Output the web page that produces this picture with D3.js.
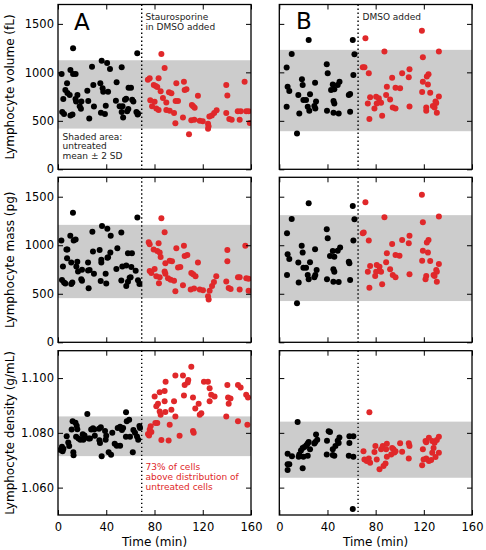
<!DOCTYPE html>
<html><head><meta charset="utf-8">
<script src="https://cdn.jsdelivr.net/npm/d3@7"></script>
<style>body{margin:0;background:#fff}svg{display:block}</style>
</head><body>
<svg id="chart" width="486" height="550"></svg>
<script>
// ---------- data (time in min, value) ----------
const xTicks = [0, 40, 80, 120, 160];
const yTicksVM = [0, 500, 1000, 1500];
const yTicksD = [1.060, 1.080, 1.100];
const additionTime = {A: 69.4, B: 65.4};
const shadeVolume = {A: [420, 1125], B: [393, 1232]};
const shadeMass = {A: [455, 1210], B: [425, 1310]};
const shadeDensity = {A: [1.0715, 1.0860], B: [1.0636, 1.0841]};

const volA_black = [[3,983],[4.4,725],[3.5,590],[5,570],[7.5,888],[7.8,787],[6.1,818],[9.7,766],[10.3,1025],[10.3,555],[12,565],[12.5,1249],[12.5,983],[14.6,983],[14.5,725],[15,700],[16.1,766],[18,650],[19,625],[19.4,700],[24.3,811],[25.1,704],[25.9,525],[28.2,1059],[29.3,869],[29.8,649],[35.1,887],[35.6,583],[36.2,1121],[37,835],[37.5,800],[38.9,570],[39.6,655],[40.7,1097],[41.5,800],[43.1,1035],[48,707],[48.6,897],[51.1,650],[52.8,1052],[52.8,590],[54,535],[53.5,650],[55.5,718],[56.5,728],[57.3,600],[58.5,842],[60.5,842],[58.3,621],[61.5,718],[62.5,700],[65,590],[66,566],[65.7,1197],[66.3,575]];
const volA_red = [[85.7,1190],[88.4,1045],[74.5,925],[76,940],[79.4,870],[81,860],[83.4,940],[82.3,848],[85.1,804],[87,735],[98.1,887],[104.4,904],[105,818],[106.5,825],[92,795],[94,785],[99.5,704],[97.5,705],[76.5,711],[80.1,697],[78,650],[81.5,628],[83.4,611],[89.8,690],[89.8,611],[92.6,604],[96.2,582],[111,663],[112,650],[113.3,635],[116,759],[103.6,535],[97.3,474],[110.5,507],[113,512],[108.6,362],[117.5,502],[120,495],[125.5,545],[127.5,555],[129.5,580],[131.5,610],[124.4,470],[124.8,445],[124.4,418],[139.5,869],[140.4,760],[139.5,580],[142,520],[144,510],[149,600],[151.5,600],[150.6,510],[154.7,904],[156,600],[158,600],[159,478]];
const massA_black = [[2.8,1048],[10.2,1099],[13,1048],[14.6,1060],[12.4,1336],[28.5,1140],[36.5,1199],[40.9,1171],[43.7,1099],[52.5,1130],[65.8,1285],[7,957],[7.8,957],[7.5,866],[11,821],[4.1,780],[16,831],[24.9,821],[29,935],[34.5,951],[35.9,850],[35.9,821],[41,870],[41.5,875],[43.4,925],[49.2,969],[58,917],[61.3,917],[15.2,780],[16.6,730],[19.9,747],[24.9,740],[26.2,745],[29.8,705],[48.4,755],[53.3,780],[56.6,790],[60.8,775],[64.4,738],[3.3,642],[5,615],[6.1,605],[11,600],[11.9,615],[19.3,650],[19.9,635],[25.4,556],[35.4,632],[39.5,705],[40,606],[52.5,637],[56.6,580],[58,623],[59.4,664],[60.2,670],[66.3,640],[67.5,600]];
const massA_red = [[85.7,1278],[88.4,1134],[76,1010],[75.2,1030],[83.4,1020],[79.3,955],[82.3,940],[84.3,925],[85.1,880],[89,815],[92.6,840],[94.5,835],[98.1,969],[104.4,995],[105,890],[107.2,900],[99.5,770],[101.4,775],[116,821],[76,735],[77.4,715],[80.1,755],[81.5,680],[84.3,670],[88.4,730],[89,705],[91.2,660],[93.4,645],[96.2,635],[83.7,608],[110.5,715],[112,700],[114,680],[103.6,587],[97.3,525],[110,545],[112.8,555],[117.5,545],[120.2,535],[125.7,530],[127.7,580],[129.3,620],[131.2,680],[124.4,475],[124.9,440],[140.4,951],[140.4,835],[139.5,627],[141.5,560],[143.1,550],[149.2,670],[150.6,670],[150.6,545],[155.3,995],[156.1,660],[158,655],[158,530]];
const densA_black = [[3.3,1.0749],[3.8,1.0733],[4.5,1.0742],[2,1.0738],[7.2,1.0788],[8.5,1.0765],[9.3,1.0752],[11.3,1.0812],[12.1,1.0842],[12.7,1.0729],[12.9,1.0718],[14.5,1.0837],[15.5,1.0826],[16,1.0813],[15,1.0786],[17,1.0779],[18.5,1.0775],[21,1.0775],[20.5,1.0795],[24.3,1.0869],[25.4,1.0779],[26.5,1.0779],[27.5,1.0812],[29,1.0817],[30,1.0812],[30.5,1.0789],[34,1.0815],[35.5,1.0820],[34.3,1.0773],[34.8,1.0763],[36.2,1.0715],[39,1.0807],[40,1.0789],[39.5,1.0775],[42,1.0729],[44,1.0720],[49.5,1.0818],[51.5,1.0822],[48.7,1.0753],[51.5,1.0753],[53,1.0810],[54,1.0818],[56.4,1.0875],[57,1.0842],[59,1.0848],[56.3,1.0786],[59.7,1.0786],[62.5,1.0810],[63.8,1.0800],[62,1.0729],[65.5,1.0787],[66.5,1.0775],[67.5,1.0825],[68,1.0818],[22,1.0790],[45,1.0800],[47,1.0760]];
const densA_red = [[110.5,1.1041],[97.3,1.1009],[103.6,1.1009],[89.2,1.0987],[108,1.0993],[107.5,1.0984],[105,1.0975],[121,1.0987],[124.3,1.0987],[125.7,1.0963],[127,1.0939],[129.8,1.0933],[140.4,1.0975],[141,1.0929],[143,1.0925],[141.5,1.0906],[149.2,1.0975],[151.4,1.0966],[156,1.0939],[157.5,1.0929],[80.1,1.0933],[84.3,1.0948],[88.4,1.0953],[88.4,1.0915],[82.9,1.0906],[81.5,1.0897],[84.3,1.0878],[85.1,1.0866],[89,1.0876],[94,1.0884],[96.2,1.0915],[97.3,1.0860],[104.4,1.0936],[111.9,1.0929],[113.8,1.0889],[116.6,1.0906],[117.5,1.0866],[118.8,1.0872],[125.7,1.0915],[139.5,1.0860],[149.2,1.0842],[157,1.0830],[92.6,1.0830],[82.3,1.0836],[80.7,1.0836],[76.8,1.0824],[76,1.0812],[74.6,1.0796],[77.4,1.0803],[75.5,1.0790],[85.7,1.0774],[91.7,1.0772],[100.8,1.0789],[111.9,1.0807],[112.5,1.0800]];

const volB_black = [[24.4,1335],[61,1335],[10.3,1190],[62.4,1187],[6.1,1049],[39.4,1083],[40.2,990],[61.5,973],[18.8,928],[19.4,869],[6.9,852],[8.3,807],[29.7,894],[44.4,876],[45.7,825],[43,818],[50,904],[48.5,869],[15.8,766],[25.5,773],[20,714],[22.2,714],[57.7,766],[58.8,776],[45,704],[45.7,680],[30.5,700],[29.1,652],[29.9,628],[23.6,645],[24.9,604],[6.1,645],[16.6,576],[39.6,604],[45,583],[49.3,576],[58.8,593],[14.7,369]];
const volB_red = [[71.5,1352],[118.4,1428],[87.3,1214],[119.2,1156],[132.5,1214],[69.3,1052],[70.7,1052],[74.3,990],[102,990],[108.1,1032],[107.5,949],[93.7,945],[89.3,852],[96.5,842],[100.3,835],[123.9,980],[122.5,956],[119.2,904],[123.4,876],[118.6,797],[125.3,790],[132.5,752],[75.4,742],[80.4,749],[82.6,732],[83.2,697],[84.5,687],[80.9,680],[73.5,680],[88.7,766],[92,721],[79,628],[94.2,638],[96.5,628],[108.1,649],[74.8,518],[85.4,552],[129.7,700],[130.3,683],[127.5,652],[128.9,638],[122,638],[122,604],[130.8,583]];
const massB_black = [[24.4,1433],[61,1405],[10.3,1271],[62.4,1268],[6.4,1123],[39.4,1164],[40.2,1072],[61.5,1048],[18.6,996],[19.4,924],[6.9,907],[8.3,859],[29.7,958],[44.4,941],[45.7,882],[42.1,889],[50.5,978],[48.5,944],[15.8,821],[25.5,824],[20,769],[22.2,769],[57.7,831],[58.2,814],[44.9,752],[45.7,728],[31,745],[29.9,694],[29.1,670],[23.6,694],[24.4,649],[6.4,694],[16.1,615],[39.6,649],[44.9,625],[49.3,622],[58.8,642],[14.7,402]];
const massB_red = [[71.5,1443],[118.4,1519],[87.3,1288],[119.2,1237],[132.5,1295],[69.3,1123],[70.1,1130],[74.3,1048],[102,1055],[108.1,1099],[107.5,1020],[93.7,1013],[89.3,917],[96.5,900],[99.8,893],[123.9,1055],[122.5,1027],[119.2,944],[123.4,924],[118.6,841],[125.3,838],[132.5,807],[75.4,786],[80.9,796],[83.2,779],[83.2,738],[84.5,728],[80.4,728],[73.5,728],[88.7,824],[92,752],[79.6,684],[94.2,694],[96.5,670],[108.1,701],[74.8,563],[85.4,598],[130.3,745],[130.8,728],[128.1,694],[128.9,683],[122,683],[121.4,649],[130.8,625]];
const densB_black = [[15.2,1.0840],[41,1.0806],[42.1,1.0803],[30.5,1.0794],[24.4,1.0767],[23.6,1.0761],[29.9,1.0767],[29.1,1.0761],[58.2,1.0788],[61.5,1.0788],[49.9,1.0783],[48.5,1.0771],[49.3,1.0763],[39.6,1.0771],[58.2,1.0763],[46.6,1.0752],[44.4,1.0740],[44.4,1.0719],[45.7,1.0716],[39.4,1.0721],[19.4,1.0745],[20.8,1.0748],[18,1.0736],[16.6,1.0721],[16.1,1.0713],[20,1.0713],[23.6,1.0716],[25.5,1.0740],[6.9,1.0724],[10.5,1.0715],[6.9,1.0685],[8.3,1.0685],[6.9,1.0664],[19.4,1.0671],[57.7,1.0716],[61.5,1.0713],[61,1.0522],[22.5,1.0755],[31.5,1.0775]];
const densB_red = [[74.8,1.0875],[69.9,1.0733],[70.7,1.0703],[72.6,1.0697],[74.3,1.0706],[75.4,1.0691],[79.8,1.0752],[79,1.0730],[84.5,1.0740],[85.9,1.0752],[89.3,1.0760],[88.7,1.0740],[80.9,1.0703],[83.2,1.0667],[86.5,1.0679],[88.2,1.0688],[93.7,1.0745],[94.8,1.0740],[95.6,1.0728],[92.9,1.0721],[96.5,1.0733],[100.3,1.0762],[102,1.0731],[107.5,1.0762],[108.1,1.0752],[107.5,1.0706],[89.3,1.0713],[121.4,1.0770],[124.2,1.0782],[122,1.0766],[127,1.0770],[128.9,1.0764],[130.8,1.0774],[132.5,1.0786],[119.2,1.0740],[128.1,1.0745],[127,1.0727],[132.5,1.0727],[122,1.0706],[124.2,1.0697],[126.1,1.0701],[119.8,1.0703],[118.6,1.0682],[129.7,1.0712]];

// ---------- layout ----------
const svg = d3.select("#chart");
const FONT = "DejaVu Sans, sans-serif";
const RED = "#e0282a";
const cols = {A: [58, 251], B: [279.3, 472]};
const rows = [
  {key: "vol", y: [4.5, 169.3], domain: [0, 1700], ticks: yTicksVM, fmt: d3.format("d"), label: "Lymphocyte volume (fL)", shade: shadeVolume,
   data: {A: [volA_black, volA_red], B: [volB_black, volB_red]}},
  {key: "mass", y: [177.3, 342.3], domain: [0, 1700], ticks: yTicksVM, fmt: d3.format("d"), label: "Lymphocyte mass (pg)", shade: shadeMass,
   data: {A: [massA_black, massA_red], B: [massB_black, massB_red]}},
  {key: "dens", y: [350.7, 515], domain: [1.050, 1.110], ticks: yTicksD, fmt: d3.format(".3f"), label: "Lymphocyte density (g/mL)", shade: shadeDensity,
   data: {A: [densA_black, densA_red], B: [densB_black, densB_red]}}
];
const TL = 5;

rows.forEach((row, ri) => {
  ["A", "B"].forEach(col => {
    const [x0, x1] = cols[col];
    const [y0, y1] = row.y;
    const x = d3.scaleLinear().domain([0, 160]).range([x0, x1]);
    const y = d3.scaleLinear().domain(row.domain).range([y1, y0]);
    const g = svg.append("g");
    const clipId = `clip-${row.key}-${col}`;
    svg.append("clipPath").attr("id", clipId).append("rect")
      .attr("x", x0).attr("y", y0).attr("width", x1 - x0).attr("height", y1 - y0);

    // shaded band
    const sh = row.shade[col];
    g.append("rect").attr("x", x0).attr("width", x1 - x0)
      .attr("y", y(sh[1])).attr("height", y(sh[0]) - y(sh[1]))
      .attr("fill", "#cccccc");

    // dotted line
    g.append("line").attr("x1", x(additionTime[col])).attr("x2", x(additionTime[col]))
      .attr("y1", y0).attr("y2", y1)
      .attr("stroke", "#000").attr("stroke-width", 1.4).attr("stroke-dasharray", "1.4,2.6");

    // points
    const [blk, red] = row.data[col];
    const pg = g.append("g").attr("clip-path", `url(#${clipId})`);
    pg.selectAll("circle.b").data(blk).join("circle").attr("class", "b")
      .attr("cx", d => x(d[0])).attr("cy", d => y(d[1])).attr("r", 3).attr("fill", "#000");
    pg.selectAll("circle.r").data(red).join("circle").attr("class", "r")
      .attr("cx", d => x(d[0])).attr("cy", d => y(d[1])).attr("r", 3).attr("fill", RED);

    // axes with inward ticks on all sides
    const left = d3.axisLeft(y).tickValues(row.ticks).tickSizeInner(-TL).tickSizeOuter(0)
      .tickFormat(col === "A" ? row.fmt : () => "");
    const right = d3.axisRight(y).tickValues(row.ticks).tickSizeInner(-TL).tickSizeOuter(0).tickFormat(() => "");
    const bottom = d3.axisBottom(x).tickValues(xTicks).tickSizeInner(-TL).tickSizeOuter(0)
      .tickFormat(ri === 2 ? d3.format("d") : () => "");
    const top = d3.axisTop(x).tickValues(xTicks).tickSizeInner(-TL).tickSizeOuter(0).tickFormat(() => "");
    const ax = [
      g.append("g").attr("transform", `translate(${x0},0)`).call(left),
      g.append("g").attr("transform", `translate(${x1},0)`).call(right),
      g.append("g").attr("transform", `translate(0,${y1})`).call(bottom),
      g.append("g").attr("transform", `translate(0,${y0})`).call(top)
    ];
    ax.forEach(a => {
      a.select(".domain").remove();
      a.selectAll(".tick line").attr("stroke", "#000").attr("stroke-width", 1);
      a.selectAll(".tick text").attr("font-family", FONT).attr("font-size", 11.5).attr("fill", "#000");
    });
    ax[0].selectAll(".tick text").attr("x", -4);
    ax[2].selectAll(".tick text").attr("y", 0).attr("dy", 15.5);

    // frame
    g.append("rect").attr("x", x0).attr("y", y0).attr("width", x1 - x0).attr("height", y1 - y0)
      .attr("fill", "none").attr("stroke", "#000").attr("stroke-width", 1.3);

    if (ri === 2) {
      g.append("text").attr("x", (x0 + x1) / 2).attr("y", 546).attr("text-anchor", "middle")
        .attr("font-family", FONT).attr("font-size", 12).text("Time (min)");
    }
  });
  // y label
  svg.append("text").attr("transform", `translate(14,${(row.y[0] + row.y[1]) / 2}) rotate(-90)`)
    .attr("text-anchor", "middle").attr("font-family", FONT).attr("font-size", 12)
    .text(row.label);
});

// annotations
const ann = (x, y, t, fill, size) => svg.append("text").attr("x", x).attr("y", y)
  .attr("font-family", FONT).attr("font-size", size).attr("fill", fill).text(t);
ann(74, 30, "A", "#000", 23);
ann(296, 28.5, "B", "#000", 23);
ann(145.5, 19.5, "Staurosporine", "#222", 9);
ann(145.5, 29.5, "in DMSO added", "#222", 9);
ann(362.5, 19.5, "DMSO added", "#222", 9);
ann(62.5, 139.5, "Shaded area:", "#222", 9);
ann(62.5, 149, "untreated", "#222", 9);
ann(62.5, 158.5, "mean \u00b1 2 SD", "#222", 9);
ann(145.5, 470, "73% of cells", RED, 9);
ann(145.5, 480, "above distribution of", RED, 9);
ann(145.5, 490, "untreated cells", RED, 9);
</script>
</body></html>
